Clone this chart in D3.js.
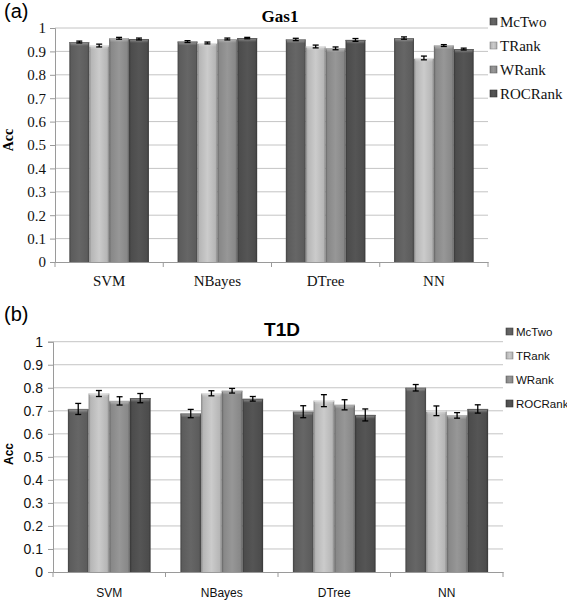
<!DOCTYPE html>
<html><head><meta charset="utf-8">
<script src="https://cdn.jsdelivr.net/npm/d3@7"></script>
<style>body{margin:0;background:#fff}svg{display:block}</style>
</head><body>
<svg id="c" width="567" height="601"></svg>
<script>
const categories = ["SVM","NBayes","DTree","NN"];
const methods = ["McTwo","TRank","WRank","ROCRank"];
const yTicks = [0,0.1,0.2,0.3,0.4,0.5,0.6,0.7,0.8,0.9,1];
const yTickLabels = ["0","0.1","0.2","0.3","0.4","0.5","0.6","0.7","0.8","0.9","1"];

// Panel (a) Gas1: rows = classifiers, cols = methods
const gas1Acc = [
  [0.940,0.925,0.956,0.953],
  [0.942,0.936,0.953,0.957],
  [0.951,0.921,0.913,0.949],
  [0.957,0.872,0.925,0.910]
];
const gas1Err = [
  [0.004,0.006,0.004,0.004],
  [0.004,0.004,0.004,0.003],
  [0.005,0.006,0.006,0.006],
  [0.005,0.008,0.004,0.004]
];
// Panel (b) T1D
const t1dAcc = [
  [0.708,0.775,0.743,0.755],
  [0.688,0.776,0.787,0.752],
  [0.696,0.744,0.726,0.682],
  [0.800,0.700,0.680,0.708]
];
const t1dErr = [
  [0.024,0.013,0.018,0.020],
  [0.018,0.011,0.010,0.010],
  [0.026,0.026,0.022,0.026],
  [0.014,0.021,0.012,0.018]
];

const baseColors = ["#5c5c5c","#b6b6b6","#888888","#4c4c4c"];
const SERIF = "'Liberation Serif', 'Times New Roman', 'DejaVu Serif', serif";
const SANS = "'Liberation Sans', Arial, sans-serif";

const svg = d3.select("#c");
const defs = svg.append("defs");
baseColors.forEach((c,i)=>{
  const g = defs.append("linearGradient").attr("id","g"+i).attr("x1","0").attr("x2","1").attr("y1","0").attr("y2","0");
  const base = d3.color(c);
  [[0,base.darker(0.9)],[0.1,base],[0.5,base.brighter(0.3)],[0.9,base],[1,base.darker(0.9)]].forEach(([o,col])=>{
    g.append("stop").attr("offset",o).attr("stop-color",col.formatHex());
  });
  const v = defs.append("linearGradient").attr("id","v"+i).attr("x1","0").attr("x2","0").attr("y1","0").attr("y2","1");
  v.append("stop").attr("offset",0).attr("stop-color","#fff").attr("stop-opacity",0.4);
  v.append("stop").attr("offset",1).attr("stop-color","#fff").attr("stop-opacity",0);
});

function panel(o){
  const g = svg.append("g");
  const x = d3.scaleBand().domain(categories).range([o.x0,o.x1]).paddingInner(0).paddingOuter(0);
  const xi = d3.scaleBand().domain(methods).range([0,x.bandwidth()]).paddingOuter(0.72).paddingInner(0);
  const y = d3.scaleLinear().domain([0,1]).range([o.y0,o.y1]);

  // gridlines
  g.append("g").selectAll("line").data(yTicks.slice(1)).join("line")
    .attr("x1",o.x0).attr("x2",o.x1).attr("y1",d=>y(d)).attr("y2",d=>y(d))
    .attr("stroke","#c4c4c4").attr("stroke-width",1);

  // y axis
  const ya = g.append("g").attr("transform",`translate(${o.x0},0)`)
    .call(d3.axisLeft(y).tickValues(yTicks).tickFormat((d,i)=>yTickLabels[i]).tickSize(5).tickPadding(o.tickPad));
  ya.select(".domain").attr("stroke","#9a9a9a");
  ya.selectAll(".tick line").attr("stroke","#9a9a9a");
  ya.selectAll("text").style("font-family",o.font).style("font-size",o.tickSize+"px").attr("fill","#111");

  // x axis
  const xa = g.append("g").attr("transform",`translate(0,${o.y0})`)
    .call(d3.axisBottom(x).tickSize(0).tickPadding(o.catPad));
  xa.select(".domain").attr("stroke","#9a9a9a");
  xa.selectAll("text").style("font-family",o.font).style("font-size",o.catSize+"px").attr("fill","#111");
  g.append("g").selectAll("line").data(categories.concat(["_end"])).join("line")
    .attr("x1",(d,i)=>o.x0+i*x.bandwidth()).attr("x2",(d,i)=>o.x0+i*x.bandwidth())
    .attr("y1",o.y0).attr("y2",o.y0+5).attr("stroke","#9a9a9a");

  // bars
  const bars = [];
  categories.forEach((c,ci)=>methods.forEach((m,mi)=>bars.push({c,m,mi,v:o.acc[ci][mi],e:o.err[ci][mi]})));
  const bg = g.append("g");
  bars.forEach(b=>{
    const bx = x(b.c)+xi(b.m), bw = xi.bandwidth();
    bg.append("rect").attr("x",bx).attr("y",y(b.v)).attr("width",bw).attr("height",y(0)-y(b.v))
      .attr("fill",`url(#g${b.mi})`);
    bg.append("rect").attr("x",bx+1).attr("y",y(b.v)).attr("width",bw-2).attr("height",4)
      .attr("fill",`url(#v${b.mi})`);
    bg.append("line").attr("x1",bx).attr("x2",bx+bw).attr("y1",y(b.v)+0.5).attr("y2",y(b.v)+0.5)
      .attr("stroke",d3.color(baseColors[b.mi]).brighter(0.6).formatHex()).attr("stroke-width",1);
  });
  // error bars
  const eg = g.append("g").attr("stroke","#000").attr("stroke-width",1.3);
  bars.forEach(b=>{
    const cx = x(b.c)+xi(b.m)+xi.bandwidth()/2;
    eg.append("line").attr("x1",cx).attr("x2",cx).attr("y1",y(b.v+b.e)).attr("y2",y(b.v-b.e));
    eg.append("line").attr("x1",cx-3).attr("x2",cx+3).attr("y1",y(b.v+b.e)).attr("y2",y(b.v+b.e));
    eg.append("line").attr("x1",cx-3).attr("x2",cx+3).attr("y1",y(b.v-b.e)).attr("y2",y(b.v-b.e));
  });

  // title
  g.append("text").attr("x",o.titleX).attr("y",o.titleY).attr("text-anchor","middle")
    .style("font-family",o.titleFont).style("font-weight","bold").style("font-size",o.titleSize+"px").text(o.title);
  // panel label
  g.append("text").attr("x",4).attr("y",o.labelY).style("font-family",SANS)
    .style("font-size","20px").text(o.label);
  // y label
  g.append("text").attr("transform",`translate(${o.accX},${o.accY}) rotate(-90)`).attr("text-anchor","middle")
    .style("font-family",o.font).style("font-weight","bold").style("font-size",o.accSize+"px").text("Acc");
  // legend
  const lg = g.append("g");
  methods.forEach((m,i)=>{
    const ly = o.legY + i*o.legStep;
    lg.append("rect").attr("x",o.legX).attr("y",ly-4).attr("width",7).attr("height",7)
      .attr("fill",`url(#g${i})`).attr("stroke",d3.color(baseColors[i]).darker(0.8).formatHex()).attr("stroke-width",0.6);
    lg.append("text").attr("x",o.legX+10).attr("y",ly).attr("dy","0.35em")
      .style("font-family",o.font).style("font-size",o.legSize+"px").attr("fill","#111").text(m);
  });
}

panel({x0:55,x1:488,y0:262,y1:28,acc:gas1Acc,err:gas1Err,
  font:SERIF,tickSize:15,catSize:15,tickPad:4,catPad:13,
  title:"Gas1",titleFont:SERIF,titleSize:17,titleX:280,titleY:22,
  label:"(a)",labelY:18,accX:13,accY:140,accSize:14,
  legX:490,legY:22,legStep:24,legSize:15});

panel({x0:53,x1:503,y0:572,y1:341.7,acc:t1dAcc,err:t1dErr,
  font:SANS,tickSize:14,catSize:12,tickPad:5,catPad:16,
  title:"T1D",titleFont:SANS,titleSize:19,titleX:282,titleY:336,
  label:"(b)",labelY:321,accX:13,accY:454,accSize:12,
  legX:506,legY:332,legStep:24,legSize:11.5});
</script>
</body></html>
